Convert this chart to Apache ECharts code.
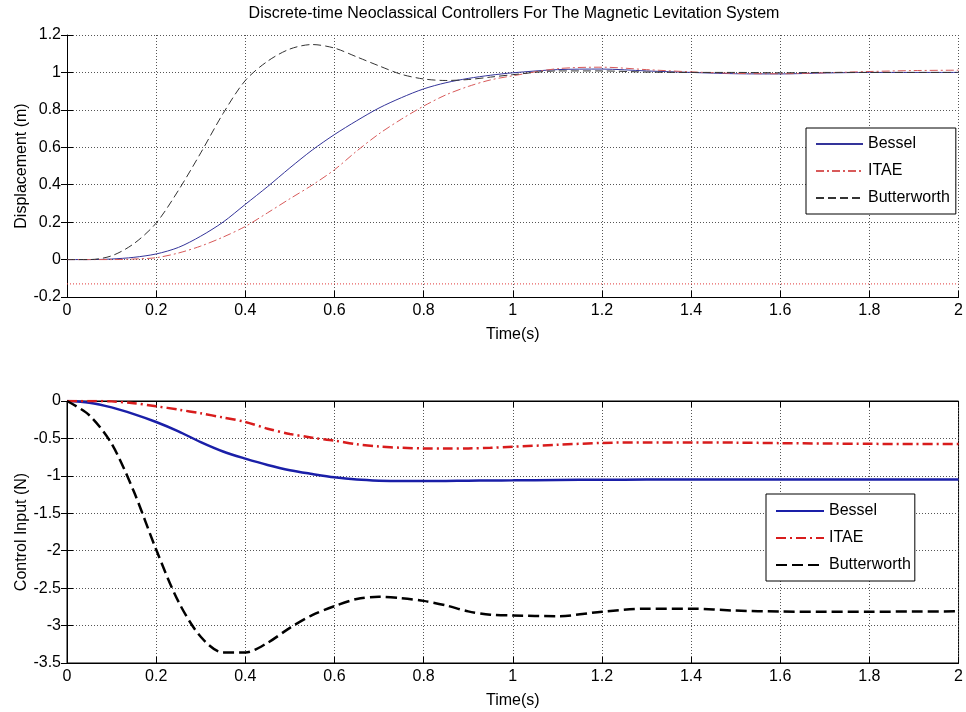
<!DOCTYPE html>
<html>
<head>
<meta charset="utf-8">
<script src="https://cdn.jsdelivr.net/npm/echarts@6/dist/echarts.min.js"></script>
<style>
  html, body { margin: 0; padding: 0; background: #fff; }
  #chart { width: 966px; height: 712px; }
</style>
</head>
<body>
<div id="chart"></div>
<script>
// Sample instants (s) shared by every trace
const timeSamples = [0, 0.05, 0.1, 0.15, 0.2, 0.25, 0.3, 0.35, 0.4, 0.45, 0.5, 0.55, 0.6, 0.65, 0.7, 0.75, 0.8, 0.85, 0.9, 0.95, 1.0,
  1.1, 1.2, 1.3, 1.4, 1.5, 1.6, 1.7, 1.8, 1.9, 2.0];

// Ball displacement (m)
const displacementBessel = [0, 0, 0.003, 0.012, 0.03, 0.065, 0.125, 0.2, 0.295, 0.39, 0.49, 0.585, 0.668, 0.742, 0.81, 0.865, 0.912, 0.945, 0.968, 0.985, 0.998,
  1.015, 1.018, 1.008, 1.0, 0.993, 0.992, 0.997, 1.0, 1.0, 1.0];
const displacementITAE = [0, 0, 0, 0.003, 0.01, 0.035, 0.072, 0.12, 0.177, 0.25, 0.325, 0.398, 0.48, 0.58, 0.672, 0.75, 0.82, 0.88, 0.925, 0.96, 0.982,
  1.02, 1.028, 1.015, 1.003, 0.995, 0.993, 0.998, 1.005, 1.01, 1.012];
const displacementButterworth = [0, 0, 0.02, 0.085, 0.195, 0.37, 0.57, 0.78, 0.957, 1.06, 1.125, 1.149, 1.13, 1.083, 1.035, 0.99, 0.965, 0.957, 0.962, 0.975, 0.988,
  1.008, 1.008, 1.002, 1.0, 1.0, 0.998, 1.0, 1.0, 1.0, 1.0];
const displacementFloor = -0.13;

// Control force (N)
const controlBessel = [0, -0.022, -0.085, -0.175, -0.28, -0.405, -0.55, -0.675, -0.77, -0.855, -0.925, -0.975, -1.02, -1.05, -1.065, -1.07, -1.07, -1.068, -1.065, -1.062, -1.06,
  -1.055, -1.052, -1.05, -1.05, -1.05, -1.05, -1.05, -1.05, -1.05, -1.05];
const controlITAE = [0, 0, -0.005, -0.03, -0.07, -0.115, -0.165, -0.22, -0.28, -0.37, -0.44, -0.49, -0.53, -0.578, -0.608, -0.625, -0.634, -0.636, -0.634, -0.625, -0.61,
  -0.585, -0.56, -0.553, -0.553, -0.556, -0.563, -0.568, -0.572, -0.575, -0.575];
const controlButterworth = [0, -0.19, -0.57, -1.21, -1.985, -2.68, -3.15, -3.36, -3.36, -3.23, -3.03, -2.86, -2.74, -2.645, -2.615, -2.635, -2.67, -2.73, -2.81, -2.855, -2.865,
  -2.875, -2.815, -2.775, -2.775, -2.8, -2.812, -2.815, -2.815, -2.812, -2.81];

const controllerNames = ['Bessel', 'ITAE', 'Butterworth'];
const chartTitle = 'Discrete-time Neoclassical Controllers For The Magnetic Levitation System';
const timeLabel = 'Time(s)';
const displacementLabel = 'Displacement (m)';
const controlLabel = 'Control Input (N)';

const FONT = '"Liberation Sans", Arial, sans-serif';
const FS = 16;

const pairs = (ys) => timeSamples.map((t, i) => [t, ys[i]]);

const gridDots = { show: true, lineStyle: { color: '#555', width: 1, type: [1, 2] } };
const tickIn = { show: true, inside: true, length: 6, lineStyle: { color: '#000', width: 1 } };
const label = { color: '#000', fontFamily: FONT, fontSize: FS, margin: 6 };

function xAx(gridIndex, extra) {
  return Object.assign({
    type: 'value', gridIndex, min: 0, max: 2, interval: 0.2,
    name: timeLabel, nameLocation: 'middle', nameGap: 30, nameMoveOverlap: false,
    nameTextStyle: { color: '#000', fontFamily: FONT, fontSize: FS },
    axisLine: { show: true, onZero: false, lineStyle: { color: '#000', width: 1 } },
    axisTick: tickIn, axisLabel: label, splitLine: gridDots
  }, extra || {});
}

const option = {
  animation: false,
  backgroundColor: '#fff',
  title: {
    text: chartTitle, left: 514, top: 6, textAlign: 'center', padding: 0,
    textStyle: { color: '#000', fontFamily: FONT, fontSize: 16, fontWeight: 'normal' }
  },
  grid: [
    { left: 67, right: 5, top: 35, height: 262, show: false },
    { left: 67, right: 5, top: 401, height: 262, show: true, borderColor: '#000', borderWidth: 1, backgroundColor: 'transparent' }
  ],
  legend: [
    {
      data: controllerNames.map(n => n + '#y'), orient: 'vertical', left: 806, top: 128,
      itemWidth: 47, itemHeight: 14, itemGap: 11, padding: [8, 6, 8, 9],
      borderColor: '#000', borderWidth: 1, backgroundColor: '#fff',
      itemStyle: { color: 'rgba(0,0,0,0)', borderWidth: 0, opacity: 0 },
      textStyle: { color: '#000', fontFamily: FONT, fontSize: FS },
      formatter: n => n.split('#')[0], selectedMode: false
    },
    {
      data: controllerNames.map(n => n + '#u'), orient: 'vertical', left: 766, top: 494,
      itemWidth: 48, itemHeight: 14, itemGap: 11, padding: [9, 4, 8, 9],
      borderColor: '#000', borderWidth: 1, backgroundColor: '#fff',
      itemStyle: { color: 'rgba(0,0,0,0)', borderWidth: 0, opacity: 0 },
      textStyle: { color: '#000', fontFamily: FONT, fontSize: FS },
      formatter: n => n.split('#')[0], selectedMode: false
    }
  ],
  xAxis: [
    xAx(0),
    xAx(1),
    xAx(1, { position: 'top', name: '', axisLabel: { show: false }, splitLine: { show: false } })
  ],
  yAxis: [
    {
      type: 'value', gridIndex: 0, min: -0.2, max: 1.2, interval: 0.2,
      name: displacementLabel, nameLocation: 'middle', nameGap: 37, nameMoveOverlap: false,
      nameTextStyle: { color: '#000', fontFamily: FONT, fontSize: FS },
      axisLine: { show: true, onZero: false, lineStyle: { color: '#000', width: 1 } },
      axisTick: tickIn, axisLabel: label, splitLine: gridDots
    },
    {
      type: 'value', gridIndex: 0, min: -0.2, max: 1.2, interval: 0.2, position: 'right',
      axisLine: { show: false }, axisTick: tickIn, axisLabel: { show: false }, splitLine: { show: false }
    },
    {
      type: 'value', gridIndex: 1, min: -3.5, max: 0, interval: 0.5,
      name: controlLabel, nameLocation: 'middle', nameGap: 37, nameMoveOverlap: false,
      nameTextStyle: { color: '#000', fontFamily: FONT, fontSize: FS },
      axisLine: { show: true, onZero: false, lineStyle: { color: '#000', width: 1 } },
      axisTick: tickIn, axisLabel: label, splitLine: gridDots
    },
    {
      type: 'value', gridIndex: 1, min: -3.5, max: 0, interval: 0.5, position: 'right',
      axisLine: { show: true, lineStyle: { color: '#000', width: 1 } }, axisTick: tickIn,
      axisLabel: { show: false }, splitLine: { show: false }
    }
  ],
  series: [
    {
      name: 'floor', type: 'line', xAxisIndex: 0, yAxisIndex: 0, symbol: 'none', silent: true,
      data: [[0, displacementFloor], [2, displacementFloor]],
      lineStyle: { color: '#e03a3a', width: 1, type: [1, 2] }
    },
    {
      name: 'Bessel#y', type: 'line', xAxisIndex: 0, yAxisIndex: 0, symbol: 'none', smooth: 0.3,
      data: pairs(displacementBessel), lineStyle: { color: '#34349a', width: 1 }, itemStyle: { color: '#34349a' }
    },
    {
      name: 'ITAE#y', type: 'line', xAxisIndex: 0, yAxisIndex: 0, symbol: 'none', smooth: 0.3,
      data: pairs(displacementITAE), lineStyle: { color: '#d85a5a', width: 1, type: [8, 3, 2, 3] }, itemStyle: { color: '#d85a5a' }
    },
    {
      name: 'Butterworth#y', type: 'line', xAxisIndex: 0, yAxisIndex: 0, symbol: 'none', smooth: 0.3,
      data: pairs(displacementButterworth), lineStyle: { color: '#333', width: 1, type: [8, 4] }, itemStyle: { color: '#333' }
    },
    {
      name: 'Bessel#u', type: 'line', xAxisIndex: 1, yAxisIndex: 2, symbol: 'none', smooth: 0.3,
      data: pairs(controlBessel), lineStyle: { color: '#1a1fa8', width: 2.5 }, itemStyle: { color: '#1a1fa8' }
    },
    {
      name: 'ITAE#u', type: 'line', xAxisIndex: 1, yAxisIndex: 2, symbol: 'none', smooth: 0.3,
      data: pairs(controlITAE), lineStyle: { color: '#d81c1c', width: 2.5, type: [10, 4, 2, 4] }, itemStyle: { color: '#d81c1c' }
    },
    {
      name: 'Butterworth#u', type: 'line', xAxisIndex: 1, yAxisIndex: 2, symbol: 'none', smooth: 0.3,
      data: pairs(controlButterworth), lineStyle: { color: '#000', width: 2.5, type: [11, 5] }, itemStyle: { color: '#000' }
    }
  ]
};

const chart = echarts.init(document.getElementById('chart'), null, { renderer: 'canvas' });
chart.setOption(option);
</script>
</body>
</html>
